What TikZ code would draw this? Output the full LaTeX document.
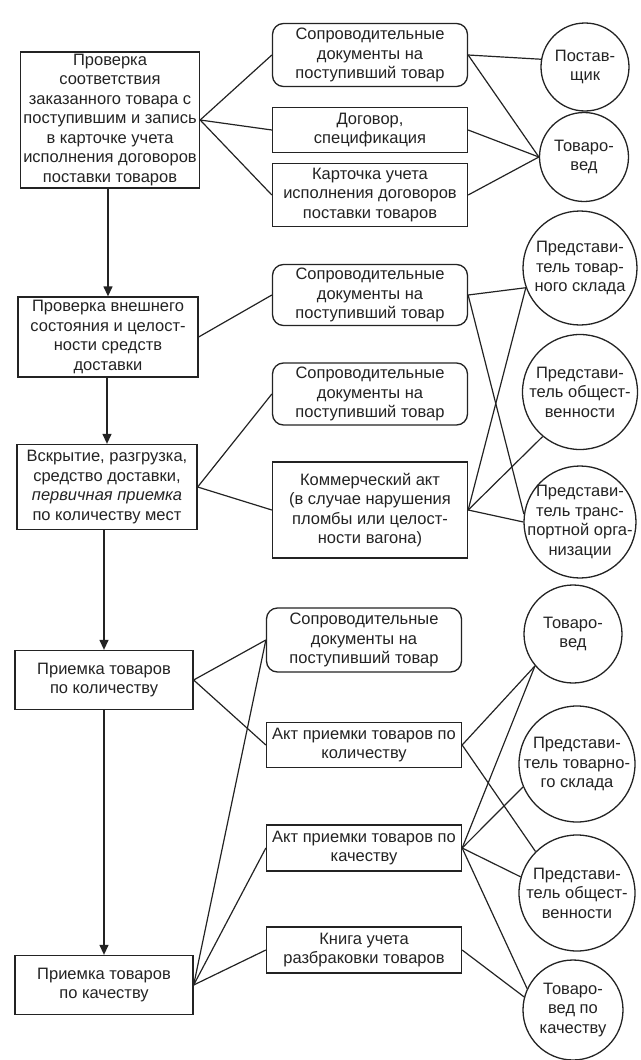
\documentclass[tikz,border=0pt]{standalone}
\usepackage{fontspec}
\setmainfont{Liberation Sans}
\usetikzlibrary{shapes.geometric, arrows.meta, positioning}
\definecolor{schink}{RGB}{35, 35, 35}
\newcommand{\schfont}{\fontsize{16.5}{19.5}\selectfont}
\tikzset{
  stagebox/.style={rectangle, draw=schink, line width=1.3pt, text=schink,
                   minimum width=#1, align=center, inner sep=1pt, font=\schfont},
  stagebox/.default=179pt,
  docbox/.style={rectangle, draw=schink, line width=1.3pt, text=schink,
                 minimum width=#1, align=center, inner sep=1pt, font=\schfont},
  docbox/.default=195pt,
  docround/.style={docbox=#1, rounded corners=11pt},
  docround/.default=195pt,
  rolecirc/.style={circle, draw=schink, line width=1.3pt, minimum size=#1, inner sep=0pt},
  rolecirc/.default=100pt,
  roletext/.style={align=center, text=schink, font=\schfont, inner sep=0pt},
  flowarrow/.style={-{Triangle[length=10pt, width=9pt]}, line width=1.3pt, draw=schink},
  linkline/.style={line width=1.2pt, draw=schink},
}

\begin{document}
\begin{tikzpicture}[x=1pt, y=-1pt]
  \useasboundingbox (0,0) rectangle (640,1060);

  % stages
  \node[stagebox, minimum height=136pt] (chk) at (110,120)
       {Проверка\\соответствия\\заказанного товара с\\поступившим и запись\\в карточке учета\\исполнения договоров\\поставки товаров};
  \node[stagebox=180pt, minimum height=80pt] (ext) at (108,337)
       {Проверка внешнего\\состояния и целост-\\ности средств\\доставки};
  \node[stagebox=180pt, minimum height=85pt] (unp) at (107,487)
       {Вскрытие, разгрузка,\\средство доставки,\\\textit{первичная приемка}\\по количеству мест};
  \node[stagebox=178pt, minimum height=59pt] (qty) at (104,680)
       {Приемка товаров\\по количеству};
  \node[stagebox=178pt, minimum height=59pt] (qlt) at (104,985)
       {Приемка товаров\\по качеству};

  \draw[flowarrow] (chk.south -| ext.north) -- (ext.north);
  \draw[flowarrow] (ext.south -| unp.north) -- (unp.north);
  \draw[flowarrow] (unp.south -| qty.north) -- (qty.north);
  \draw[flowarrow] (qty.south -| qlt.north) -- (qlt.north);

  % documents
  \node[docround, minimum height=63pt] (doca) at (370,55)
       {Сопроводительные\\документы на\\поступивший товар};
  \node[docbox, minimum height=45pt] (contract) at (370,130)
       {Договор,\\спецификация};
  \node[docbox, minimum height=63pt] (card) at (370,195)
       {Карточка учета\\исполнения договоров\\поставки товаров};
  \node[docround, minimum height=61pt] (docb) at (370,295)
       {Сопроводительные\\документы на\\поступивший товар};
  \node[docround, minimum height=62pt] (docc) at (370,394)
       {Сопроводительные\\документы на\\поступивший товар};
  \node[docbox, minimum height=96pt] (comact) at (370,510)
       {Коммерческий акт\\(в случае нарушения\\пломбы или целост-\\ности вагона)};
  \node[docround, minimum height=64pt] (docd) at (364,640)
       {Сопроводительные\\документы на\\поступивший товар};
  \node[docbox, minimum height=45pt] (actqty) at (364,745)
       {Акт приемки товаров по\\количеству};
  \node[docbox, minimum height=46pt] (actqlt) at (364,848)
       {Акт приемки товаров по\\качеству};
  \node[docbox, minimum height=46pt] (rejbook) at (364,950)
       {Книга учета\\разбраковки товаров};

  % participants
  \foreach \n/\x/\y/\d/\t in {
      sup/585/67/88pt/{Постав-\\щик},
      mera/584/157/89pt/{Товаро-\\вед},
      whsa/580/268/114pt/{Представи-\\тель товар-\\ного склада},
      puba/580/392/115pt/{Представи-\\тель общест-\\венности},
      trn/580/522/112pt/{Представи-\\тель транс-\\портной орга-\\низации},
      merb/573/634/98pt/{Товаро-\\вед},
      whsb/577/764/116pt/{Представи-\\тель товарно-\\го склада},
      pubb/577/893/116pt/{Представи-\\тель общест-\\венности},
      merq/573/1010/100pt/{Товаро-\\вед по\\качеству}} {
    \node[rolecirc=\d, label={[roletext]center:\t}] (\n) at (\x,\y) {};
  }

  % links
  \foreach \a/\b in {chk/doca, chk/contract, chk/card, ext/docb, unp/docc, unp/comact,
                     qty/docd, qty/actqty, qlt/docd, qlt/actqlt, qlt/rejbook}
    \draw[linkline] (\a.east) -- (\b.west);
  \foreach \a/\b in {doca/sup.170, doca/mera.180, contract/mera.180, card/mera.180,
                     docb/whsa.200, docb/trn.172, comact/whsa.200, comact/puba.230, comact/trn.180,
                     actqty/merb.220, actqty/pubb.135, actqlt/merb.220, actqlt/whsb.203,
                     actqlt/pubb.164, actqlt/merq.155, rejbook/merq.165}
    \draw[linkline] (\a.east) -- (\b);
\end{tikzpicture}
\end{document}
